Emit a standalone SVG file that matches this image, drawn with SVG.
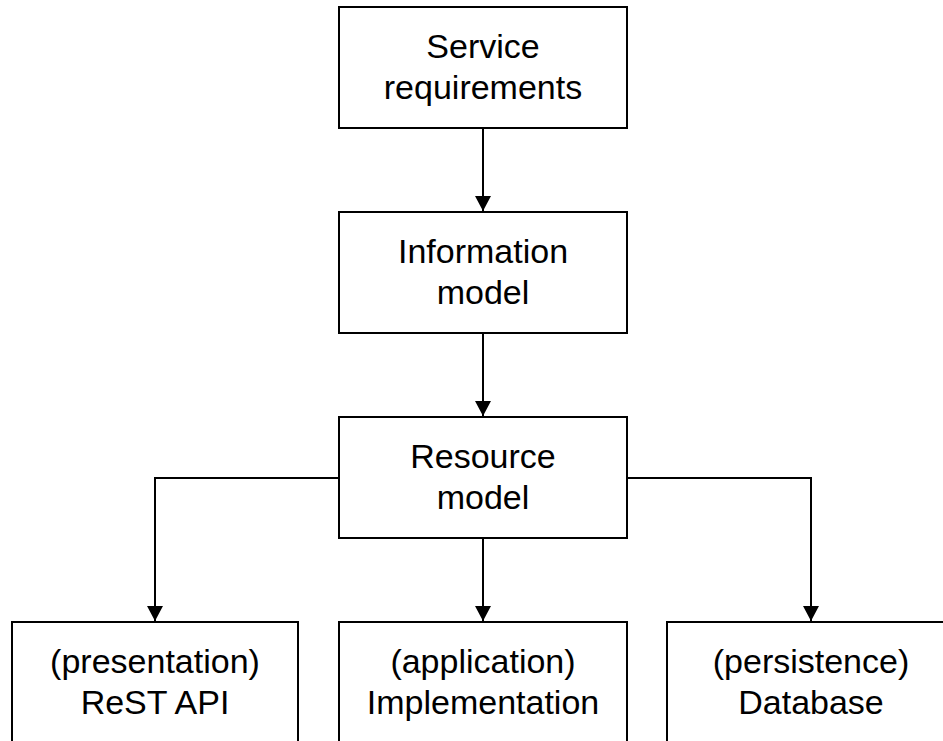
<svg xmlns="http://www.w3.org/2000/svg" width="943" height="741" viewBox="0 0 943 741">
  <style>
    .box { fill: #ffffff; stroke: #000000; stroke-width: 2; }
    .label { font-family: "Liberation Sans", Arial, sans-serif; font-size: 34px; fill: #000000; text-anchor: middle; }
    .edge { fill: none; stroke: #000000; stroke-width: 2; }
  </style>
  <defs>
    <marker id="arrow" viewBox="0 0 15 16" markerWidth="15" markerHeight="16" refX="15" refY="8" orient="auto" markerUnits="userSpaceOnUse">
      <path d="M0,0 L15,8 L0,16 z" fill="#000000"/>
    </marker>
  </defs>
  <rect width="943" height="741" fill="#ffffff"/>

  <g id="connectors">
    <path class="edge" d="M483,128 L483,211" marker-end="url(#arrow)"/>
    <path class="edge" d="M483,333 L483,416" marker-end="url(#arrow)"/>
    <path class="edge" d="M483,538 L483,621" marker-end="url(#arrow)"/>
    <path class="edge" d="M339,478 L155,478 L155,621" marker-end="url(#arrow)"/>
    <path class="edge" d="M627,478 L811,478 L811,621" marker-end="url(#arrow)"/>
  </g>

  <g id="service-requirements">
    <rect class="box" x="339" y="7" width="288" height="121"/>
    <text class="label" x="483" y="57.5">Service</text>
    <text class="label" x="483" y="98.5">requirements</text>
  </g>

  <g id="information-model">
    <rect class="box" x="339" y="212" width="288" height="121"/>
    <text class="label" x="483" y="262.5">Information</text>
    <text class="label" x="483" y="303.5">model</text>
  </g>

  <g id="resource-model">
    <rect class="box" x="339" y="417" width="288" height="121"/>
    <text class="label" x="483" y="467.5">Resource</text>
    <text class="label" x="483" y="508.5">model</text>
  </g>

  <g id="rest-api">
    <rect class="box" x="12" y="622" width="286" height="121"/>
    <text class="label" x="155" y="672.5">(presentation)</text>
    <text class="label" x="155" y="713.5">ReST API</text>
  </g>

  <g id="implementation">
    <rect class="box" x="339" y="622" width="288" height="121"/>
    <text class="label" x="483" y="672.5">(application)</text>
    <text class="label" x="483" y="713.5">Implementation</text>
  </g>

  <g id="database">
    <rect class="box" x="667" y="622" width="288" height="121"/>
    <text class="label" x="811" y="672.5">(persistence)</text>
    <text class="label" x="811" y="713.5">Database</text>
  </g>
</svg>
